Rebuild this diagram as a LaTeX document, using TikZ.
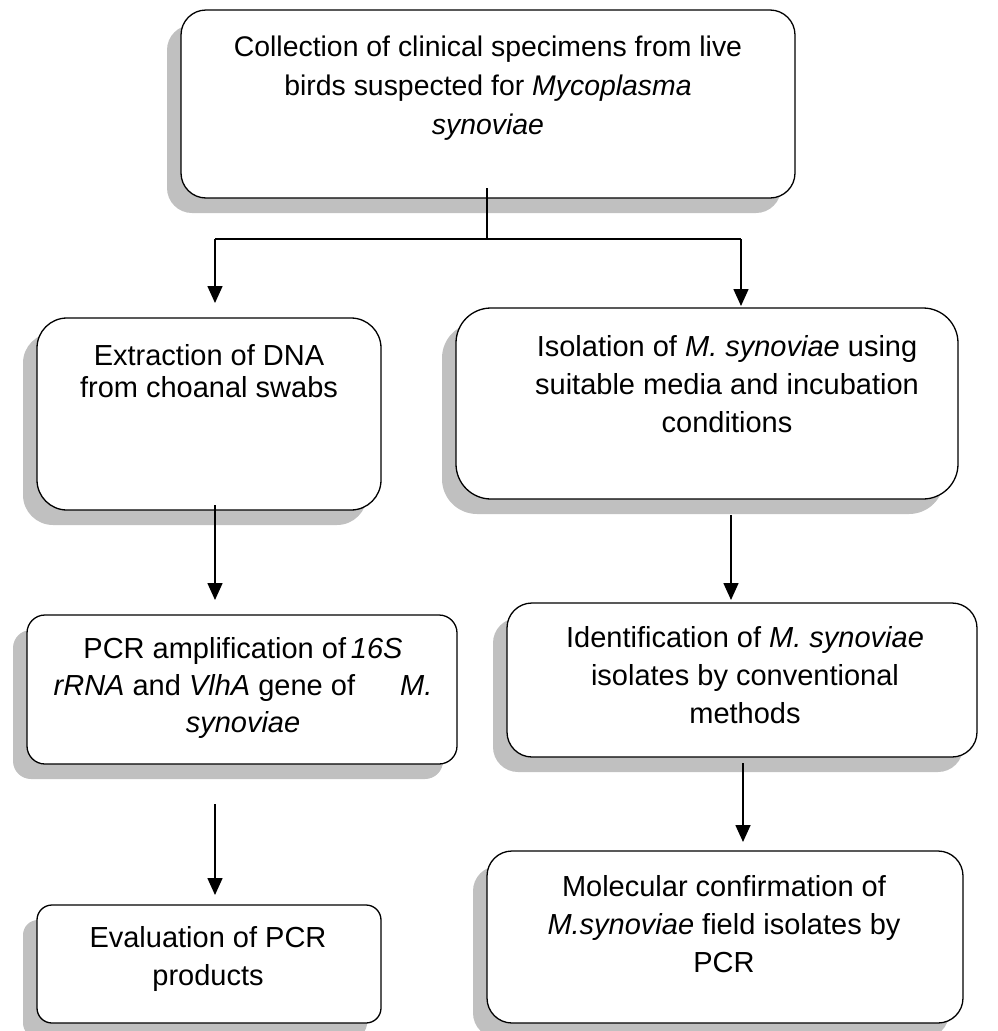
\documentclass[tikz,border=0pt]{standalone}
\usepackage{fontspec}
\setmainfont{Liberation Sans}
\usetikzlibrary{shadows,arrows.meta}
\definecolor{shadowgray}{RGB}{192,192,192}
\begin{document}
\begin{tikzpicture}[x=1pt,y=-1pt,
 box/.style={draw=black, line width=1.3pt, fill=white, rectangle, inner sep=0pt,
   drop shadow={shadow xshift=-14pt, shadow yshift=-15pt, fill=shadowgray, opacity=1}},
 txt/.style={align=center, inner sep=0pt, anchor=base, font=\fontsize{29}{38}\selectfont},
 conn/.style={line width=1.6pt},
 arr/.style={conn, -{Triangle[length=17pt,width=15pt]}}
]
\useasboundingbox (0,0) rectangle (997,1031);
% boxes
\node[box, rounded corners=25pt, minimum width=614pt, minimum height=188pt] (b1) at (488,104) {};
\node[box, rounded corners=30pt, minimum width=344pt, minimum height=192pt] (b2) at (209,414) {};
\node[box, rounded corners=35pt, minimum width=502pt, minimum height=191pt] (b3) at (707,403.5) {};
\node[box, rounded corners=18pt, minimum width=430pt, minimum height=149pt] (b4) at (242,689.5) {};
\node[box, rounded corners=25pt, minimum width=470pt, minimum height=154pt] (b5) at (742,680) {};
\node[box, rounded corners=15pt, minimum width=344pt, minimum height=118pt] (b6) at (209,964) {};
\node[box, rounded corners=25pt, minimum width=476pt, minimum height=172pt] (b7) at (725,937) {};
% texts (anchored at the baseline of the last line)
\node[txt, font=\fontsize{28.4}{39}\selectfont] (t1) at (488,134) {Collection of clinical specimens from live\\birds suspected for \textit{Mycoplasma}\\\textit{synoviae}};
\node[txt, font=\fontsize{29}{32}\selectfont] (t2) at (209,397) {Extraction of DNA\\from choanal swabs};
\node[txt] (t3) at (727,432) {Isolation of \textit{M. synoviae} using\\suitable media and incubation\\conditions};
\node[txt, font=\fontsize{29}{37}\selectfont] (t4) at (243,732) {PCR amplification of\,\textit{16S}\\\textit{rRNA} and \textit{VlhA} gene of\hspace{45pt}\textit{M.}\\\textit{synoviae}};
\node[txt] (t5) at (745,723) {Identification of \textit{M. synoviae}\\isolates by conventional\\methods};
\node[txt] (t6) at (208,985) {Evaluation of PCR\\products};
\node[txt] (t7) at (724,972) {Molecular confirmation of\\\textit{M.synoviae} field isolates by\\PCR};
% connector points
\coordinate (s0) at (487,188);
\coordinate (sm) at (487,239);
\coordinate (sL) at (215,239);
\coordinate (sR) at (741,239);
\coordinate (aL) at (215,303);
\coordinate (aR) at (741,306);
\coordinate (c2) at (215,505);
\coordinate (e4) at (215,600);
\coordinate (c3) at (731,515);
\coordinate (e5) at (731,600);
\coordinate (c4) at (215,804);
\coordinate (e6) at (215,895);
\coordinate (c5) at (743,763);
\coordinate (e7) at (743,842);
% connectors
\draw[conn] (s0) -- (sm);
\draw[conn] (sL) -- (sR);
\draw[arr] (sL) -- (aL);
\draw[arr] (sR) -- (aR);
\draw[arr] (c2) -- (e4);
\draw[arr] (c3) -- (e5);
\draw[arr] (c4) -- (e6);
\draw[arr] (c5) -- (e7);
\end{tikzpicture}
\end{document}
